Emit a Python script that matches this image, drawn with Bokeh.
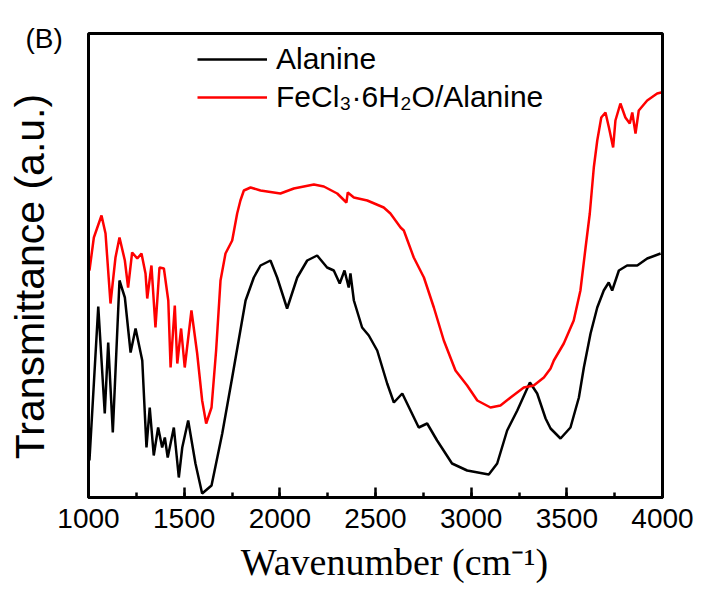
from math import pi
from bokeh.plotting import figure
from bokeh.models import (Label, Range1d, SingleIntervalTicker, Legend, LegendItem,
                          LinearAxis, BoxAnnotation)
from bokeh.embed import file_html
from bokeh.resources import INLINE

# ---- data (wavenumber in cm-1, transmittance in a.u.) ----
wn_ala = [1005, 1051, 1085, 1103, 1127, 1162, 1190, 1220, 1246, 1281, 1303, 1320, 1341, 1364, 1385,
          1399, 1414, 1446, 1472, 1490, 1521, 1559, 1594, 1643, 1699, 1751, 1821, 1864, 1899, 1951,
          1986, 2038, 2091, 2143, 2195, 2247, 2282, 2313, 2338, 2360, 2369, 2387, 2430, 2465, 2509,
          2561, 2596, 2640, 2683, 2726, 2770, 2822, 2900, 2979, 3092, 3136, 3188, 3241, 3307, 3345,
          3389, 3415, 3467, 3519, 3563, 3589, 3624, 3659, 3693, 3719, 3737, 3772, 3815, 3868, 3920,
          3990]
t_ala = [37, 191, 84, 155, 65, 217, 200, 145, 169, 137, 50, 90, 42, 70, 50,
         60, 40, 70, 20, 50, 77, 34, 4, 12, 64, 120, 197, 220, 232, 237,
         220, 189, 220, 237, 242, 230, 227, 214, 227, 210, 224, 197, 170, 162, 147,
         114, 95, 104, 87, 70, 74, 57, 34, 27, 23, 34, 67, 87, 115, 104,
         79, 69, 59, 70, 100, 130, 164, 190, 207, 215, 207, 227, 232, 232, 239,
         244]

wn_fe = [1005, 1028, 1068, 1089, 1115, 1141, 1162, 1190, 1207, 1228, 1255, 1277, 1298, 1307, 1329,
         1350, 1371, 1394, 1417, 1429, 1451, 1464, 1484, 1503, 1538, 1568, 1594, 1615, 1643, 1667,
         1690, 1716, 1751, 1777, 1794, 1812, 1847, 1899, 2003, 2073, 2178, 2230, 2300, 2348, 2355,
         2387, 2457, 2543, 2578, 2631, 2648, 2700, 2753, 2805, 2857, 2918, 2979, 3032, 3101, 3153,
         3206, 3275, 3327, 3380, 3415, 3432, 3484, 3536, 3571, 3598, 3620, 3641, 3659, 3680, 3702,
         3720, 3742, 3754, 3780, 3806, 3829, 3842, 3859, 3876, 3920, 3972, 3993]
t_fe = [227, 260, 282, 264, 194, 240, 260, 237, 210, 245, 239, 244, 224, 199, 232,
        170, 230, 229, 197, 130, 192, 134, 169, 130, 187, 144, 97, 74, 90, 147,
        217, 244, 257, 284, 297, 307, 310, 307, 304, 309, 313, 311, 304, 295, 305,
        300, 297, 290, 284, 270, 267, 240, 220, 190, 157, 127, 112, 97, 90, 92,
        100, 110, 112, 120, 129, 137, 154, 177, 207, 250, 284, 330, 357, 380, 385,
        370, 350, 377, 394, 380, 374, 385, 364, 387, 397, 404, 405]

series_names = ["Alanine", "FeCl\u2083\u00b76H\u2082O/Alanine"]
x_label = "Wavenumber (cm\u207b\u00b9)"
y_label = "Transmittance (a.u.)"
panel_tag = "(B)"
x_lo, x_hi = 1000, 4000       # axis extent
y_lo, y_hi = 0, 464           # axis extent (a.u.)

SANS = "Liberation Sans"
SERIF = "Liberation Serif"

W, H = 701, 596
# plot box occupies canvas x 88..662, y 33..497 ; frame = whole canvas
BL, BR, BT, BB = 88, 662, 33, 497
px_per_x = (BR - BL) / (x_hi - x_lo)
xr = Range1d(x_lo - BL / px_per_x, x_hi + (W - BR) / px_per_x)
yr = Range1d(y_lo - (H - BB), y_hi + BT)

p = figure(width=W, height=H, output_backend="svg", toolbar_location=None,
           x_range=xr, y_range=yr, x_axis_location=None, y_axis_location=None,
           min_border=0)
p.background_fill_color = "white"
p.border_fill_color = "white"
p.grid.visible = False
p.outline_line_color = None

xa = LinearAxis(fixed_location=y_lo, bounds=(x_lo, x_hi))
xa.ticker = SingleIntervalTicker(interval=500, num_minor_ticks=2)
xa.axis_line_width = 3
xa.axis_line_color = "black"
xa.major_tick_in = 10
xa.major_tick_out = 0
xa.minor_tick_in = 5
xa.minor_tick_out = 0
xa.major_tick_line_width = 2.5
xa.minor_tick_line_width = 2.5
xa.major_label_text_font = SANS
xa.major_label_text_font_size = "28px"
xa.major_label_text_color = "black"
xa.major_label_standoff = 11
p.add_layout(xa, "below")

p.add_layout(BoxAnnotation(left=x_lo, right=x_hi, bottom=y_lo, top=y_hi,
                           fill_alpha=0, line_color="black", line_alpha=1.0, line_width=3))

r1 = p.line(wn_ala, t_ala, line_color="black", line_width=2.5)
r2 = p.line(wn_fe, t_fe, line_color="#ff0000", line_width=2.5)

legend = Legend(items=[LegendItem(label=series_names[0], renderers=[r1]),
                       LegendItem(label=series_names[1], renderers=[r2])],
                location=(197, H - 116), padding=0, margin=0, spacing=0,
                glyph_width=70, glyph_height=38, label_height=38, label_standoff=9,
                label_text_font=SANS, label_text_font_size="30px", label_text_color="black",
                border_line_color=None, background_fill_alpha=0)
p.add_layout(legend)

# screen units: x from canvas left, y from canvas bottom
p.add_layout(Label(x=29, y=H - 276, x_units="screen", y_units="screen", text=y_label,
                   angle=pi / 2, text_align="center", text_baseline="middle",
                   text_font=SANS, text_font_size="41px", text_color="black"))
p.add_layout(Label(x=394, y=H - 561, x_units="screen", y_units="screen", text=x_label,
                   text_align="center", text_baseline="middle",
                   text_font=SERIF, text_font_size="38px", text_color="black"))
p.add_layout(Label(x=25, y=H - 38, x_units="screen", y_units="screen", text=panel_tag,
                   text_align="left", text_baseline="middle",
                   text_font=SANS, text_font_size="28px", text_color="black"))

open("out.html", "w").write(file_html(p, INLINE))
